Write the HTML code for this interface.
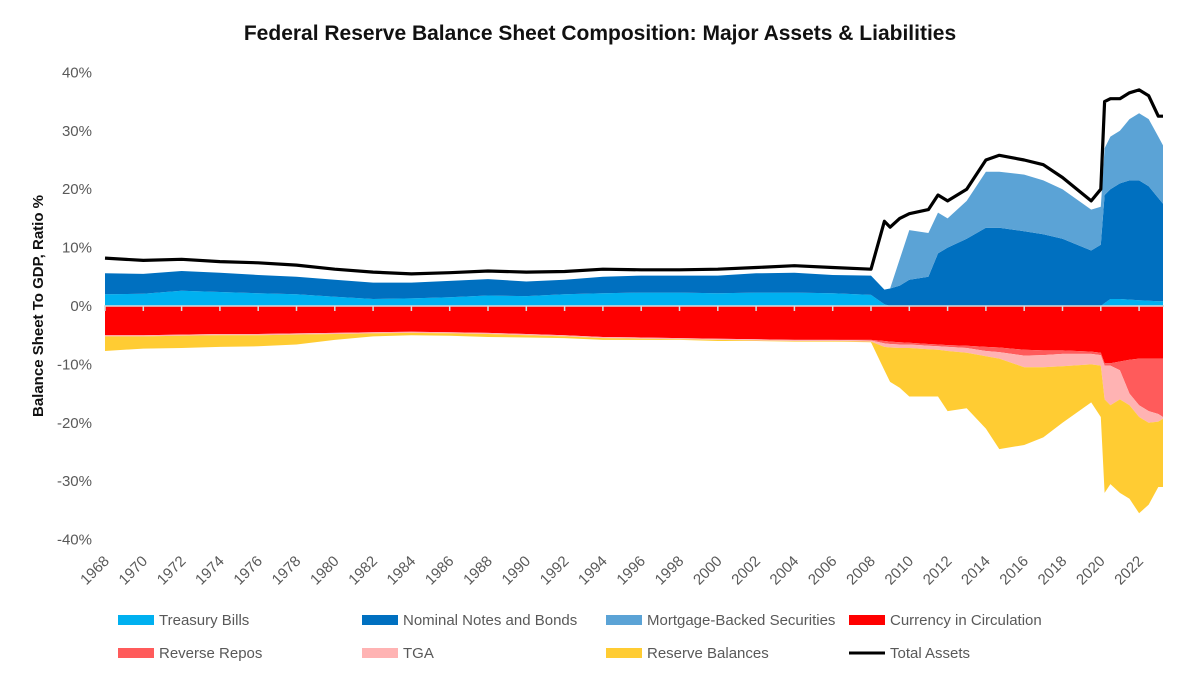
<!DOCTYPE html>
<html><head><meta charset="utf-8"><style>
body{margin:0;background:#fff;font-family:"Liberation Sans",sans-serif}
svg text{font-family:"Liberation Sans",sans-serif}
</style></head><body>
<svg id="chart" width="1200" height="678" xmlns="http://www.w3.org/2000/svg">
<text x="600" y="40" text-anchor="middle" font-size="21" font-weight="bold" fill="#111">Federal Reserve Balance Sheet Composition: Major Assets &amp; Liabilities</text>
<text transform="translate(43,306) rotate(-90)" text-anchor="middle" font-size="15" font-weight="bold" fill="#111">Balance Sheet To GDP, Ratio %</text>
<g id="yticks"></g><g id="areas"></g><g id="axis"></g><g id="xticks"></g><g id="line"></g><g id="legend"></g>
</svg>
<script>
const years=[1968,1970,1972,1974,1976,1978,1980,1982,1984,1986,1988,1990,1992,1994,1996,1998,2000,2002,2004,2006,
2008,2008.7,2009,2009.5,2010,2011,2011.5,2012,2013,2014,2014.7,2016,2017,2018,2019.5,2020,2020.2,2020.5,2021,2021.5,2022,2022.5,2023,2023.25];
const tbills=[2.0,2.1,2.6,2.4,2.2,2.0,1.6,1.2,1.3,1.5,1.8,1.7,2.0,2.2,2.3,2.3,2.2,2.3,2.3,2.2,
1.9,0.3,0,0,0,0,0,0,0,0,0,0,0,0,0,0,0.5,1.2,1.2,1.1,1.0,0.9,0.8,0.8];
const notes=[3.6,3.4,3.4,3.3,3.1,3.0,2.9,2.8,2.7,2.8,2.8,2.5,2.5,2.8,2.9,2.9,3.0,3.3,3.4,3.1,
3.3,2.5,3.0,3.5,4.5,5.0,9.0,10.0,11.5,13.4,13.4,12.8,12.3,11.5,9.5,10.5,18.5,18.8,19.8,20.4,20.5,19.6,17.7,16.7];
const mbs=[0,0,0,0,0,0,0,0,0,0,0,0,0,0,0,0,0,0,0,0,
0,0,0,4.5,8.5,7.5,7,5,6.5,9.6,9.6,9.7,9.2,8.5,7,6.5,8,9,9,10.5,11.5,11.5,10.5,10];
const totalAssets=[8.2,7.8,8.0,7.6,7.4,7.0,6.3,5.8,5.5,5.7,6.0,5.8,5.9,6.3,6.2,6.2,6.3,6.6,6.9,6.6,
6.3,14.5,13.5,15.0,15.8,16.5,19.0,18.0,20.0,25.0,25.8,25.0,24.2,22.0,18.0,20.0,35.0,35.5,35.5,36.5,37.0,36.0,32.5,32.5];
const currency=[5.0,5.0,4.9,4.8,4.8,4.7,4.6,4.5,4.4,4.5,4.6,4.8,5.0,5.3,5.4,5.5,5.6,5.7,5.8,5.8,
5.8,6.0,6.1,6.2,6.3,6.5,6.6,6.7,6.8,7.0,7.1,7.5,7.6,7.6,7.8,8.0,9.8,9.8,9.5,9.2,9.0,9.0,9.0,9.0];
const reverseRepos=[0,0,0,0,0,0,0,0,0,0,0,0,0,0,0,0,0,0,0,0,
0.1,0.4,0.4,0.4,0.3,0.3,0.3,0.3,0.4,0.7,0.8,1.0,0.8,0.6,0.4,0.4,0.4,0.4,1.5,5.8,8.0,9.0,9.5,10.0];
const tga=[0.2,0.2,0.2,0.2,0.2,0.2,0.2,0.2,0.2,0.2,0.2,0.2,0.2,0.2,0.2,0.2,0.2,0.2,0.2,0.2,
0.2,0.6,0.6,0.6,0.6,0.6,0.6,0.7,0.8,0.9,1.1,2.0,2.1,2.1,1.8,1.8,5.8,6.8,5.0,2.0,2.0,2.0,1.3,0.3];
const reserves=[2.5,2.1,2.1,2.0,1.9,1.7,1.0,0.5,0.4,0.4,0.5,0.4,0.3,0.3,0.2,0.1,0.2,0.1,0.1,0.1,
0.1,4,5.9,6.8,8.3,8.1,8,10.3,9.5,12.4,15.5,13.3,12,9.7,6.5,8.8,16,13.5,16,16,16.5,14,11.2,11.7];
const yTicks=[40,30,20,10,0,-10,-20,-30,-40];
const xTickYears=[1968,1970,1972,1974,1976,1978,1980,1982,1984,1986,1988,1990,1992,1994,1996,1998,2000,2002,2004,2006,2008,2010,2012,2014,2016,2018,2020,2022];

const NS="http://www.w3.org/2000/svg";
const X=y=>105+(y-1968)*19.15;
const Y=v=>306-v*5.84;
function mk(tag,attrs,parent){const e=document.createElementNS(NS,tag);for(const k in attrs)e.setAttribute(k,attrs[k]);document.getElementById(parent).appendChild(e);return e;}

yTicks.forEach(t=>{const e=mk('text',{x:92,y:Y(t)+5,'text-anchor':'end','font-size':15,fill:'#595959'},'yticks');e.textContent=t+'%';

});

function band(lo,hi,color,name){
  let d='M'+years.map((y,i)=>X(y).toFixed(1)+','+Y(hi[i]).toFixed(1)).join('L');
  for(let i=years.length-1;i>=0;i--)d+='L'+X(years[i]).toFixed(1)+','+Y(lo[i]).toFixed(1);
  const p=mk('path',{d:d+'Z',fill:color},'areas');
  
  
}
const z=years.map(()=>0);
const c1=tbills.slice(),c2=c1.map((v,i)=>v+notes[i]),c3=c2.map((v,i)=>v+mbs[i]);
band(z,c1,'#00b0f0','area-treasury-bills');
band(c1,c2,'#0070c0','area-notes-bonds');
band(c2,c3,'#5ba3d6','area-mbs');
const n1=currency.map(v=>-v),n2=n1.map((v,i)=>v-reverseRepos[i]),n3=n2.map((v,i)=>v-tga[i]),n4=n3.map((v,i)=>v-reserves[i]);
band(n1,z,'#ff0000','area-currency');
band(n2,n1,'#ff5b5b','area-reverse-repos');
band(n3,n2,'#ffb3b3','area-tga');
band(n4,n3,'#ffcc33','area-reserves');

const ax=mk('line',{x1:104,x2:1164,y1:306,y2:306,stroke:'#d9d9d9','stroke-width':1.5},'axis');


xTickYears.forEach(yr=>{const x=X(yr);
  const t=mk('line',{x1:x,x2:x,y1:306,y2:311,stroke:'#d9d9d9','stroke-width':1.5},'axis');
  
  
  const e=mk('text',{x:x+5,y:562,'text-anchor':'end','font-size':15,fill:'#595959',transform:`rotate(-45 ${x+5} 562)`},'xticks');
  e.textContent=yr;
  
  });

const pl=mk('polyline',{points:years.map((y,i)=>X(y).toFixed(1)+','+Y(totalAssets[i]).toFixed(1)).join(' '),fill:'none',stroke:'#000','stroke-width':3.2,'stroke-linejoin':'round'},'line');



const legendItems=[['Treasury Bills','#00b0f0',118,620],['Nominal Notes and Bonds','#0070c0',362,620],['Mortgage-Backed Securities','#5ba3d6',606,620],['Currency in Circulation','#ff0000',849,620],
['Reverse Repos','#ff5b5b',118,653],['TGA','#ffb3b3',362,653],['Reserve Balances','#ffcc33',606,653],['Total Assets','line',849,653]];
legendItems.forEach(([lab,col,x,y])=>{
  const g=mk('g',{},'legend');
  
  
  const ns=document.createElementNS(NS,col==='line'?'line':'rect');
  if(col==='line'){ns.setAttribute('x1',x);ns.setAttribute('x2',x+36);ns.setAttribute('y1',y);ns.setAttribute('y2',y);ns.setAttribute('stroke','#000');ns.setAttribute('stroke-width',3);}
  else{ns.setAttribute('x',x);ns.setAttribute('y',y-5);ns.setAttribute('width',36);ns.setAttribute('height',10);ns.setAttribute('fill',col);}
  g.appendChild(ns);
  const t=document.createElementNS(NS,'text');t.setAttribute('x',x+41);t.setAttribute('y',y+5);t.setAttribute('font-size',15);t.setAttribute('fill','#595959');t.textContent=lab;g.appendChild(t);
});
</script>
</body></html>
